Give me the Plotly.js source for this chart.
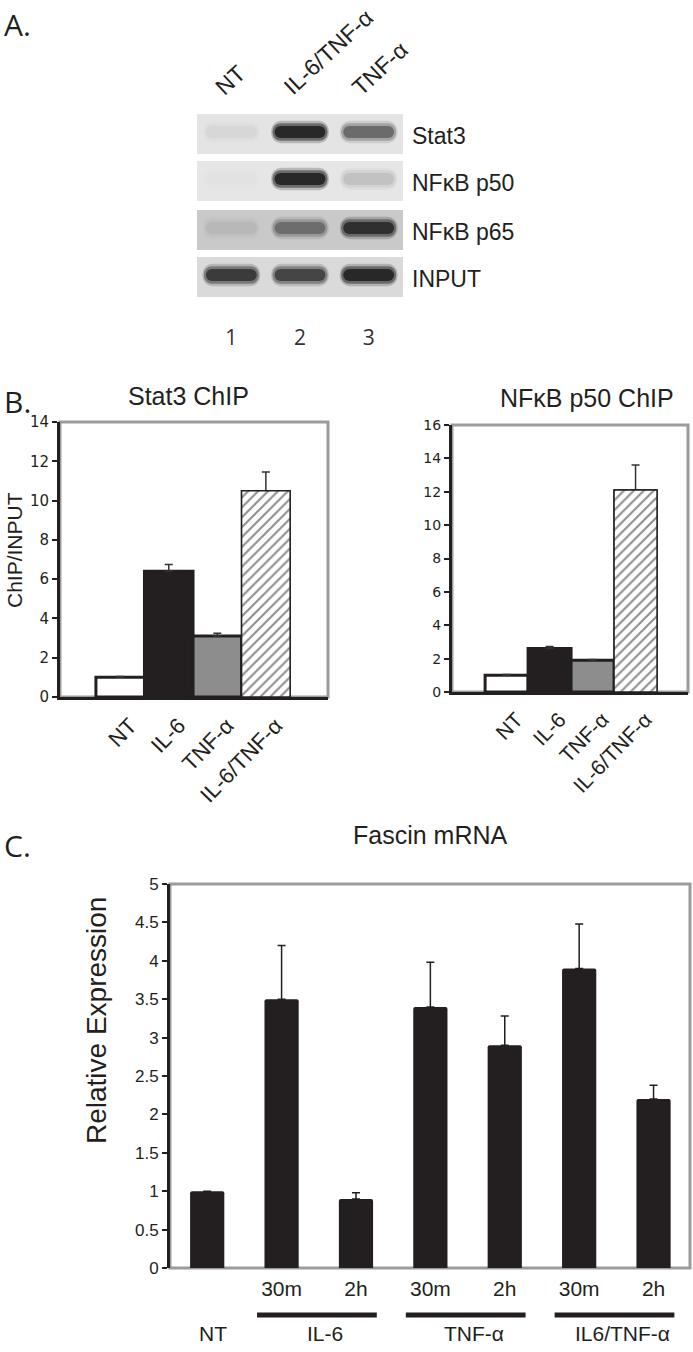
<!DOCTYPE html>
<html>
<head>
<meta charset="utf-8">
<script src="https://cdn.plot.ly/plotly-3.0.1.min.js"></script>
<style>
  body { margin: 0; background: #fff; }
  #fig { width: 693px; height: 1352px; }
</style>
</head>
<body>
<div id="fig"></div>
<script>
// Panel A - ChIP gel (band darkness 0..1 per lane)
var laneNames = ["NT", "IL-6/TNF-α", "TNF-α"];
var laneNumbers = ["1", "2", "3"];
var gelRows = ["Stat3", "NFκB p50", "NFκB p65", "INPUT"];
var bandStat3 = [0.04, 1.0, 0.5];
var bandP50 = [0.01, 1.0, 0.12];
var bandP65 = [0.06, 0.42, 0.88];
var bandInput = [0.8, 0.72, 0.97];
var gelBg = ["#e4e4e4", "#e6e6e6", "#c9c9c9", "#dadada"];

// Panel B - ChIP/INPUT
var chipCats = ["NT", "IL-6", "TNF-α", "IL-6/TNF-α"];
var stat3Chip = [1.0, 6.4, 3.1, 10.5];
var stat3ChipErr = [0.05, 0.35, 0.15, 0.95];
var p50Chip = [1.0, 2.6, 1.9, 12.1];
var p50ChipErr = [0.05, 0.12, 0.05, 1.5];

// Panel C - Fascin mRNA
var fascinCats = ["NT", "IL-6 30m", "IL-6 2h", "TNF 30m", "TNF 2h", "IL6/TNF 30m", "IL6/TNF 2h"];
var fascinTimes = ["", "30m", "2h", "30m", "2h", "30m", "2h"];
var fascinVals = [1.0, 3.5, 0.9, 3.4, 2.9, 3.9, 2.2];
var fascinErr = [0, 0.7, 0.08, 0.58, 0.38, 0.58, 0.18];
var fascinGroups = ["NT", "IL-6", "TNF-α", "IL6/TNF-α"];
var groupFirst = [0, 1, 3, 5];
var groupLast = [0, 2, 4, 6];

var W = 693, H = 1352;
function px(x) { return x / W; }
function py(y) { return 1 - y / H; }

var ink = "#231f20";
var sans = "Liberation Sans, Arial, sans-serif";
var myriad = "Open Sans, Liberation Sans, sans-serif";

var data = [];
var shapes = [];
var annotations = [];

// gel rows: three stacked layers give a soft band
var bands = [bandStat3, bandP50, bandP65, bandInput];
var rowAxes = ["y", "y2", "y3", "y4"];
var lanes = [1, 2, 3];
var bandLayers = [
  { h: 0.56, base: 0.27, w: 0.84, a: 0.22, r: 10 },
  { h: 0.44, base: 0.33, w: 0.8, a: 0.45, r: 8 },
  { h: 0.3, base: 0.40, w: 0.74, a: 0.75, r: 6 }
];
bands.forEach(function (b, k) {
  bandLayers.forEach(function (L) {
    data.push({
      type: "bar", x: lanes, y: lanes.map(function () { return L.h; }), base: L.base,
      width: L.w, xaxis: "x", yaxis: rowAxes[k], hoverinfo: "skip", showlegend: false,
      marker: { color: "#111111", opacity: b.map(function (v) { return v * L.a; }), cornerradius: L.r, line: { width: 0 } }
    });
  });
  shapes.push({
    type: "rect", xref: "x domain", yref: rowAxes[k] + " domain", x0: 0, x1: 1, y0: 0, y1: 1,
    fillcolor: gelBg[k], line: { width: 0 }, layer: "below"
  });
  annotations.push({
    text: gelRows[k], xref: "paper", yref: rowAxes[k] + " domain", x: px(410), y: 0.45,
    xanchor: "left", yanchor: "middle", showarrow: false, font: { family: sans, size: 23, color: ink }
  });
});
laneNames.forEach(function (n, i) {
  annotations.push({
    text: n, xref: "x", yref: "paper", x: lanes[i], y: py(103), xshift: -24,
    xanchor: "left", yanchor: "bottom", textangle: -43, showarrow: false,
    font: { family: sans, size: 23, color: ink }
  });
});

// panel B bars
var chipColors = ["#ffffff", ink, "#8d8d8d", "#ffffff"];
var chipLines = [3, 3, 3, 1.5];
function chipTrace(vals, errs, xa, ya) {
  return {
    type: "bar", x: chipCats, y: vals, width: 1, xaxis: xa, yaxis: ya, showlegend: false,
    marker: { color: chipColors, line: { color: ink, width: chipLines } },
    error_y: { type: "data", array: errs, arrayminus: errs.map(function () { return 0; }), symmetric: false,
      color: "#333", thickness: 1.5, width: 4 }
  };
}
// hatching for the combined treatment bar
function hatchTrace(vals, xa, ya) {
  return {
    type: "bar", x: chipCats.slice(3), y: vals.slice(3), width: 1, xaxis: xa, yaxis: ya, showlegend: false,
    marker: {
      color: "#ffffff", line: { color: ink, width: 1.5 },
      pattern: { shape: "/", fgcolor: ink, size: 7, solidity: 0.3, fillmode: "overlay" }
    }
  };
}
data.push(chipTrace(stat3Chip, stat3ChipErr, "x2", "y5"));
data.push(hatchTrace(stat3Chip, "x2", "y5"));
data.push(chipTrace(p50Chip, p50ChipErr, "x3", "y6"));
data.push(hatchTrace(p50Chip, "x3", "y6"));

// panel C bars
data.push({
  type: "bar", x: fascinCats, y: fascinVals, width: 0.46, xaxis: "x4", yaxis: "y7", showlegend: false,
  marker: { color: ink, cornerradius: 2, line: { width: 0 } },
  error_y: { type: "data", array: fascinErr, arrayminus: fascinErr.map(function () { return 0; }), symmetric: false,
    color: ink, thickness: 1.5, width: 4 }
});

// gray frames
[["x2", "y5"], ["x3", "y6"], ["x4", "y7"]].forEach(function (p) {
  shapes.push({
    type: "rect", xref: p[0] + " domain", yref: p[1] + " domain", x0: 0, x1: 1, y0: 0, y1: 1,
    line: { color: "#9b9b9b", width: 3 }, layer: "below"
  });
});

// group bars and labels under panel C
fascinGroups.forEach(function (g, i) {
  if (groupLast[i] > groupFirst[i]) {
    shapes.push({
      type: "line", xref: "x4", yref: "paper", x0: groupFirst[i] - 0.33, x1: groupLast[i] + 0.28,
      y0: py(1315), y1: py(1315), line: { color: ink, width: 5 }
    });
  }
  annotations.push({
    text: g, xref: "x4", yref: "paper", x: (groupFirst[i] + groupLast[i]) / 2, y: py(1333), xshift: 6,
    xanchor: "center", yanchor: "middle", showarrow: false, font: { family: sans, size: 21, color: ink }
  });
});

// titles and panel letters
function label(text, x, y, size, opts) {
  var a = { text: text, xref: "paper", yref: "paper", x: px(x), y: py(y), showarrow: false,
    xanchor: "center", yanchor: "middle", font: { family: sans, size: size, color: ink } };
  for (var k in opts) a[k] = opts[k];
  annotations.push(a);
}
label("A.", 2, 2, 30, { xanchor: "left", yanchor: "top", font: { family: myriad, size: 30, color: ink } });
label("B.", 2, 379, 30, { xanchor: "left", yanchor: "top", font: { family: myriad, size: 30, color: ink } });
label("C.", 2, 823, 30, { xanchor: "left", yanchor: "top", font: { family: myriad, size: 30, color: ink } });
label("Stat3 ChIP", 188, 396, 25);
label("NFκB p50 ChIP", 587, 398, 25);
label("Fascin mRNA", 430, 835, 25);
label("ChIP/INPUT", 14, 550, 21, { textangle: -90 });
label("Relative Expression", 96, 1021, 28, { textangle: -90 });

var blackAxis = { showline: true, linecolor: ink, linewidth: 3, showgrid: false, zeroline: false };
function merge(a, b) { var o = {}; for (var k in a) o[k] = a[k]; for (var j in b) o[j] = b[j]; return o; }

var layout = {
  width: W, height: H,
  margin: { l: 0, r: 0, t: 0, b: 0 },
  paper_bgcolor: "#ffffff", plot_bgcolor: "rgba(0,0,0,0)",
  showlegend: false, barmode: "overlay",
  xaxis: {
    domain: [px(197), px(403)], range: [0.5, 3.5], anchor: "y4", showline: false, showgrid: false, zeroline: false,
    tickvals: lanes, ticktext: laneNumbers, ticks: "", ticklabelstandoff: 26,
    tickfont: { family: myriad, size: 21, color: "#333" }
  },
  yaxis: { domain: [py(154), py(114)], range: [0, 1], anchor: "x", visible: false },
  yaxis2: { domain: [py(201), py(161)], range: [0, 1], anchor: "x", visible: false },
  yaxis3: { domain: [py(250), py(210)], range: [0, 1], anchor: "x", visible: false },
  yaxis4: { domain: [py(297), py(257)], range: [0, 1], anchor: "x", visible: false },

  xaxis2: merge(blackAxis, {
    domain: [px(60), px(328)], anchor: "y5", type: "category", range: [-1.24, 4.28],
    ticks: "", tickangle: -46, ticklabelshift: 10, ticklabelstandoff: 4,
    tickfont: { family: sans, size: 22, color: ink }
  }),
  yaxis5: merge(blackAxis, {
    domain: [py(697), py(422)], anchor: "x2", range: [0, 14], dtick: 2,
    ticks: "outside", ticklen: 5, tickwidth: 2, tickcolor: ink,
    tickfont: { family: "DejaVu Sans, Verdana, sans-serif", size: 15, color: ink }
  }),
  xaxis3: merge(blackAxis, {
    domain: [px(452), px(688)], anchor: "y6", type: "category", range: [-1.27, 4.22],
    ticks: "", tickangle: -46, ticklabelshift: 10, ticklabelstandoff: 4,
    tickfont: { family: sans, size: 21, color: ink }
  }),
  yaxis6: merge(blackAxis, {
    domain: [py(692), py(425)], anchor: "x3", range: [0, 16], dtick: 2,
    ticks: "outside", ticklen: 5, tickwidth: 2, tickcolor: ink,
    tickfont: { family: "DejaVu Sans, Verdana, sans-serif", size: 14, color: ink }
  }),

  xaxis4: {
    domain: [px(170), px(690)], anchor: "y7", type: "category", range: [-0.5, 6.49],
    showline: false, showgrid: false, zeroline: false, ticks: "",
    tickvals: fascinCats, ticktext: fascinTimes, ticklabelstandoff: 6,
    tickfont: { family: sans, size: 21, color: ink }
  },
  yaxis7: merge(blackAxis, {
    domain: [py(1268), py(884)], anchor: "x4", range: [0, 5], dtick: 0.5,
    ticks: "outside", ticklen: 5, tickwidth: 2, tickcolor: ink,
    tickfont: { family: sans, size: 17, color: ink }
  }),

  shapes: shapes,
  annotations: annotations
};

Plotly.newPlot("fig", data, layout, { displayModeBar: false, staticPlot: true });
</script>
</body>
</html>
